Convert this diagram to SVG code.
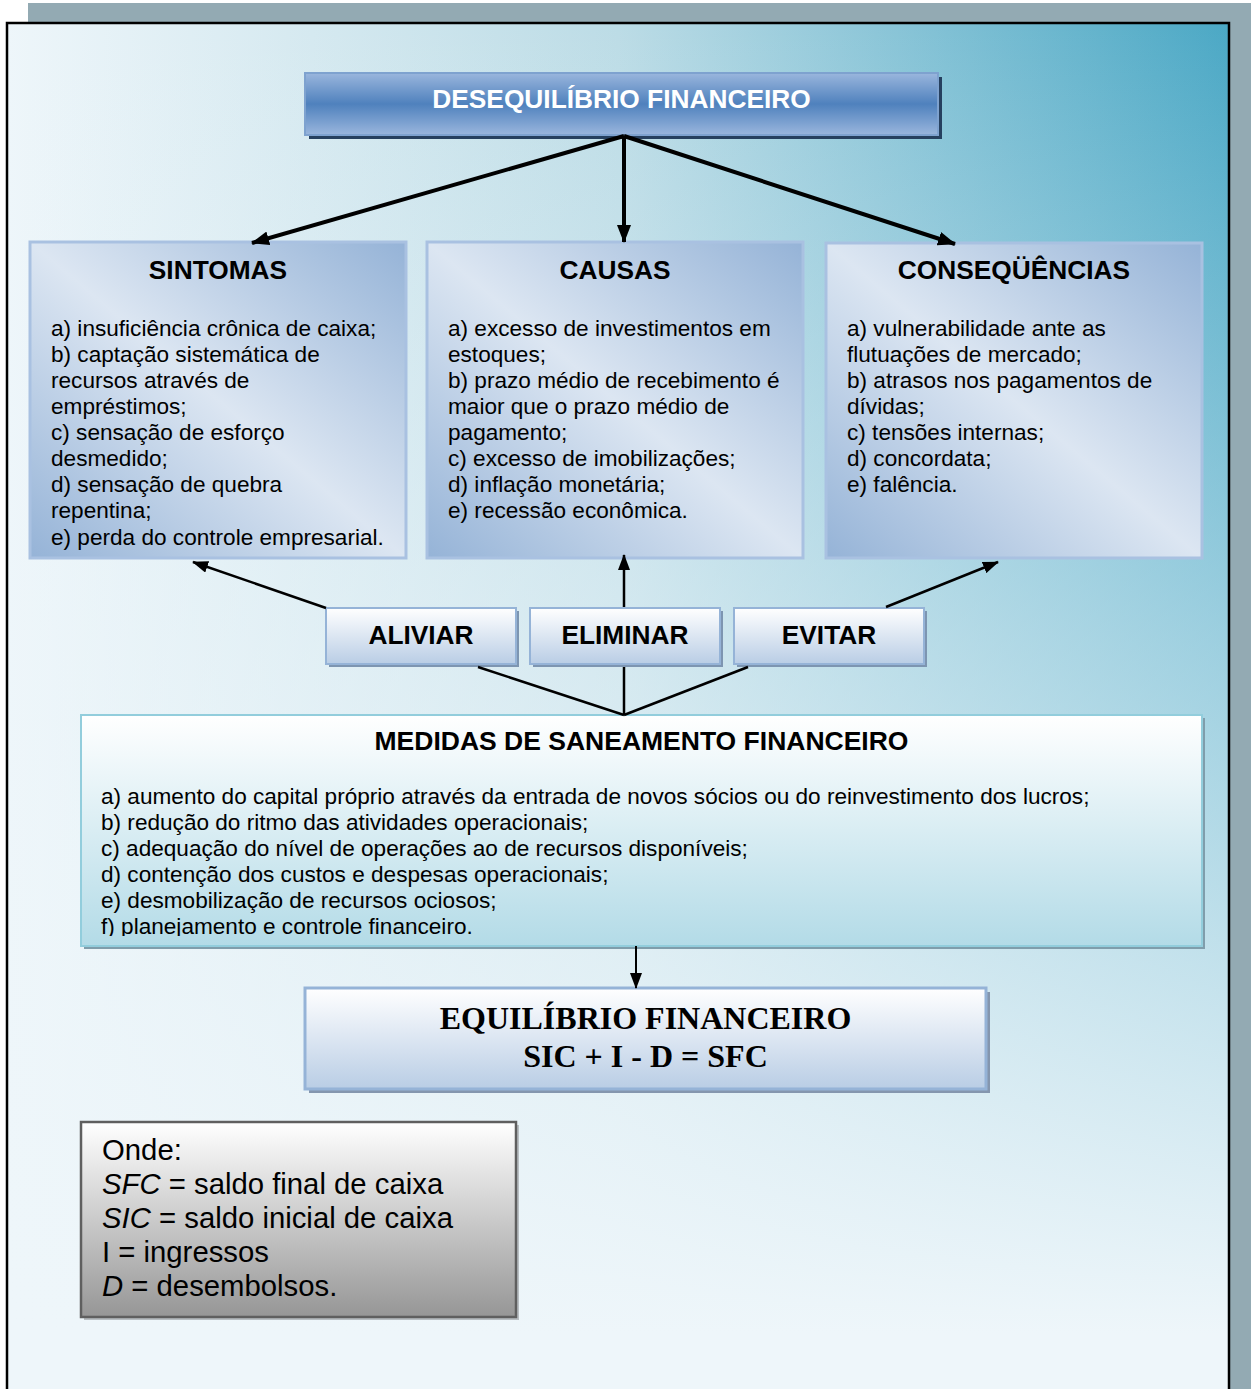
<svg xmlns="http://www.w3.org/2000/svg" width="1251" height="1389" viewBox="0 0 1251 1389">
<defs>
<linearGradient id="bgH" x1="0" y1="0" x2="1" y2="0">
<stop offset="0" stop-color="#EEF6FA"/>
<stop offset="0.5" stop-color="#BCDCE6"/>
<stop offset="1" stop-color="#4BA8C5"/>
</linearGradient>
<linearGradient id="bgV" x1="0" y1="0" x2="0" y2="1">
<stop offset="0" stop-color="#EEF6FA" stop-opacity="0"/>
<stop offset="0.45" stop-color="#EEF6FA" stop-opacity="0.5"/>
<stop offset="0.95" stop-color="#EEF6FA" stop-opacity="1"/>
</linearGradient>
<linearGradient id="topG" x1="0" y1="0" x2="0" y2="1">
<stop offset="0" stop-color="#9AB6DD"/>
<stop offset="0.5" stop-color="#4F81BD"/>
<stop offset="1" stop-color="#9AB6DD"/>
</linearGradient>
<linearGradient id="panelG" x1="1" y1="0" x2="0" y2="1">
<stop offset="0" stop-color="#95B3D7"/>
<stop offset="0.5" stop-color="#DCE6F2"/>
<stop offset="1" stop-color="#95B3D7"/>
</linearGradient>
<linearGradient id="btnG" x1="0" y1="0" x2="0" y2="1">
<stop offset="0" stop-color="#FFFFFF"/>
<stop offset="1" stop-color="#B9CDE5"/>
</linearGradient>
<linearGradient id="medG" x1="0" y1="0" x2="0" y2="1">
<stop offset="0" stop-color="#FFFFFF"/>
<stop offset="1" stop-color="#B3DBE7"/>
</linearGradient>
<linearGradient id="ondeG" x1="0" y1="0" x2="0" y2="1">
<stop offset="0" stop-color="#FFFFFF"/>
<stop offset="1" stop-color="#969696"/>
</linearGradient>
<clipPath id="medClip"><rect x="81" y="715" width="1121" height="221"/></clipPath>
<marker id="ahBig" markerUnits="userSpaceOnUse" markerWidth="18" markerHeight="14" refX="17" refY="7" orient="auto">
<path d="M0,0 L18,7 L0,14 z" fill="#000"/>
</marker>
<marker id="ahSmall" markerUnits="userSpaceOnUse" markerWidth="16" markerHeight="12" refX="15" refY="6" orient="auto">
<path d="M0,0 L16,6 L0,12 z" fill="#000"/>
</marker>
</defs>
<style>
.sans{font-family:"Liberation Sans",Arial,sans-serif;}
.title{font-family:"Liberation Sans",Arial,sans-serif;font-weight:bold;font-size:26.3px;fill:#000;}
.body{font-family:"Liberation Sans",Arial,sans-serif;font-size:22.6px;fill:#000;}
.panel{fill:url(#panelG);stroke:#A9C1E1;stroke-width:3;}
.btn{fill:url(#btnG);stroke:#95B3D7;stroke-width:2;}
.btnShadow{fill:#7D95B1;}
.conn{stroke:#000;fill:none;}
</style>

<!-- background -->
<rect x="28" y="3" width="1223" height="1386" fill="#93AAB3"/>
<rect x="7" y="23" width="1222" height="1380" fill="url(#bgH)"/>
<rect x="7" y="23" width="1222" height="1380" fill="url(#bgV)"/>
<rect x="7" y="23" width="1222" height="1380" fill="none" stroke="#000" stroke-width="2.5"/>

<g id="node-desequilibrio">
<rect x="309" y="77" width="633" height="62" fill="#26405F"/>
<rect x="305" y="73" width="633" height="62" fill="url(#topG)" stroke="#7EA2CF" stroke-width="2"/>
<text x="621.5" y="108" text-anchor="middle" class="title" style="fill:#FFFFFF">DESEQUILÍBRIO FINANCEIRO</text>
</g>

<g id="node-sintomas">
<rect x="30" y="242" width="376" height="316" class="panel"/>
<text x="218" y="279" text-anchor="middle" class="title">SINTOMAS</text>
<text class="body">
<tspan x="51" y="336">a) insuficiência crônica de caixa;</tspan>
<tspan x="51" y="362">b) captação sistemática de</tspan>
<tspan x="51" y="388">recursos através de</tspan>
<tspan x="51" y="414">empréstimos;</tspan>
<tspan x="51" y="440">c) sensação de esforço</tspan>
<tspan x="51" y="466">desmedido;</tspan>
<tspan x="51" y="492">d) sensação de quebra</tspan>
<tspan x="51" y="518">repentina;</tspan>
<tspan x="51" y="545">e) perda do controle empresarial.</tspan>
</text>
</g>

<g id="node-causas">
<rect x="427" y="242" width="376" height="316" class="panel"/>
<text x="615" y="279" text-anchor="middle" class="title">CAUSAS</text>
<text class="body">
<tspan x="448" y="336">a) excesso de investimentos em</tspan>
<tspan x="448" y="362">estoques;</tspan>
<tspan x="448" y="388">b) prazo médio de recebimento é</tspan>
<tspan x="448" y="414">maior que o prazo médio de</tspan>
<tspan x="448" y="440">pagamento;</tspan>
<tspan x="448" y="466">c) excesso de imobilizações;</tspan>
<tspan x="448" y="492">d) inflação monetária;</tspan>
<tspan x="448" y="518">e) recessão econômica.</tspan>
</text>
</g>

<g id="node-consequencias">
<rect x="826" y="243" width="376" height="315" class="panel"/>
<text x="1014" y="279" text-anchor="middle" class="title">CONSEQÜÊNCIAS</text>
<text class="body">
<tspan x="847" y="336">a) vulnerabilidade ante as</tspan>
<tspan x="847" y="362">flutuações de mercado;</tspan>
<tspan x="847" y="388">b) atrasos nos pagamentos de</tspan>
<tspan x="847" y="414">dívidas;</tspan>
<tspan x="847" y="440">c) tensões internas;</tspan>
<tspan x="847" y="466">d) concordata;</tspan>
<tspan x="847" y="492">e) falência.</tspan>
</text>
</g>

<g id="node-aliviar">
<rect x="329" y="611" width="190" height="56" class="btnShadow"/>
<rect x="326" y="608" width="190" height="56" class="btn"/>
<text x="421" y="644" text-anchor="middle" class="title">ALIVIAR</text>
</g>
<g id="node-eliminar">
<rect x="533" y="611" width="190" height="56" class="btnShadow"/>
<rect x="530" y="608" width="190" height="56" class="btn"/>
<text x="625" y="644" text-anchor="middle" class="title">ELIMINAR</text>
</g>
<g id="node-evitar">
<rect x="737" y="611" width="190" height="56" class="btnShadow"/>
<rect x="734" y="608" width="190" height="56" class="btn"/>
<text x="829" y="644" text-anchor="middle" class="title">EVITAR</text>
</g>

<g id="node-medidas">
<rect x="84" y="718" width="1121" height="231" fill="#7F9DAB"/>
<rect x="81" y="715" width="1121" height="231" fill="url(#medG)" stroke="#92CDDC" stroke-width="2"/>
<text x="641.5" y="750" text-anchor="middle" class="title" style="font-size:26.5px">MEDIDAS DE SANEAMENTO FINANCEIRO</text>
<text class="body" clip-path="url(#medClip)">
<tspan x="101" y="804">a) aumento do capital próprio através da entrada de novos sócios ou do reinvestimento dos lucros;</tspan>
<tspan x="101" y="830">b) redução do ritmo das atividades operacionais;</tspan>
<tspan x="101" y="856">c) adequação do nível de operações ao de recursos disponíveis;</tspan>
<tspan x="101" y="882">d) contenção dos custos e despesas operacionais;</tspan>
<tspan x="101" y="908">e) desmobilização de recursos ociosos;</tspan>
<tspan x="101" y="934">f) planejamento e controle financeiro.</tspan>
</text>
</g>

<g id="node-equilibrio">
<rect x="309" y="992" width="681" height="101" fill="#8496AE"/>
<rect x="305" y="988" width="681" height="101" fill="url(#btnG)" stroke="#95B3D7" stroke-width="3"/>
<text x="645.5" y="1029" text-anchor="middle" style="font-family:'Liberation Serif','Times New Roman',serif;font-weight:bold;font-size:32px">EQUILÍBRIO FINANCEIRO</text>
<text x="645.5" y="1067" text-anchor="middle" style="font-family:'Liberation Serif','Times New Roman',serif;font-weight:bold;font-size:32px">SIC + I - D = SFC</text>
</g>

<g id="node-onde">
<rect x="84" y="1125" width="435" height="195" fill="#B8BEC2"/>
<rect x="81" y="1122" width="435" height="195" fill="url(#ondeG)" stroke="#5F5F5F" stroke-width="2.5"/>
<text class="sans" style="font-size:29.3px" fill="#000">
<tspan x="102" y="1160">Onde:</tspan>
<tspan x="102" y="1194"><tspan font-style="italic">SFC</tspan> = saldo final de caixa</tspan>
<tspan x="102" y="1228"><tspan font-style="italic">SIC</tspan> = saldo inicial de caixa</tspan>
<tspan x="102" y="1262">I = ingressos</tspan>
<tspan x="102" y="1296"><tspan font-style="italic">D</tspan> = desembolsos.</tspan>
</text>
</g>

<g id="connectors">
<line x1="624" y1="136" x2="252" y2="243" class="conn" stroke-width="4" marker-end="url(#ahBig)"/>
<line x1="624" y1="136" x2="624" y2="242" class="conn" stroke-width="4" marker-end="url(#ahBig)"/>
<line x1="624" y1="136" x2="955" y2="244" class="conn" stroke-width="4" marker-end="url(#ahBig)"/>
<line x1="326" y1="608" x2="193" y2="562" class="conn" stroke-width="2.5" marker-end="url(#ahSmall)"/>
<line x1="624" y1="607" x2="624" y2="555" class="conn" stroke-width="2.5" marker-end="url(#ahSmall)"/>
<line x1="886" y1="607" x2="998" y2="562" class="conn" stroke-width="2.5" marker-end="url(#ahSmall)"/>
<line x1="478" y1="667" x2="624" y2="715" class="conn" stroke-width="2.5"/>
<line x1="624" y1="667" x2="624" y2="715" class="conn" stroke-width="2.5"/>
<line x1="748" y1="667" x2="624" y2="715" class="conn" stroke-width="2.5"/>
<line x1="636" y1="946" x2="636" y2="988" class="conn" stroke-width="2" marker-end="url(#ahSmall)"/>
</g>
</svg>
